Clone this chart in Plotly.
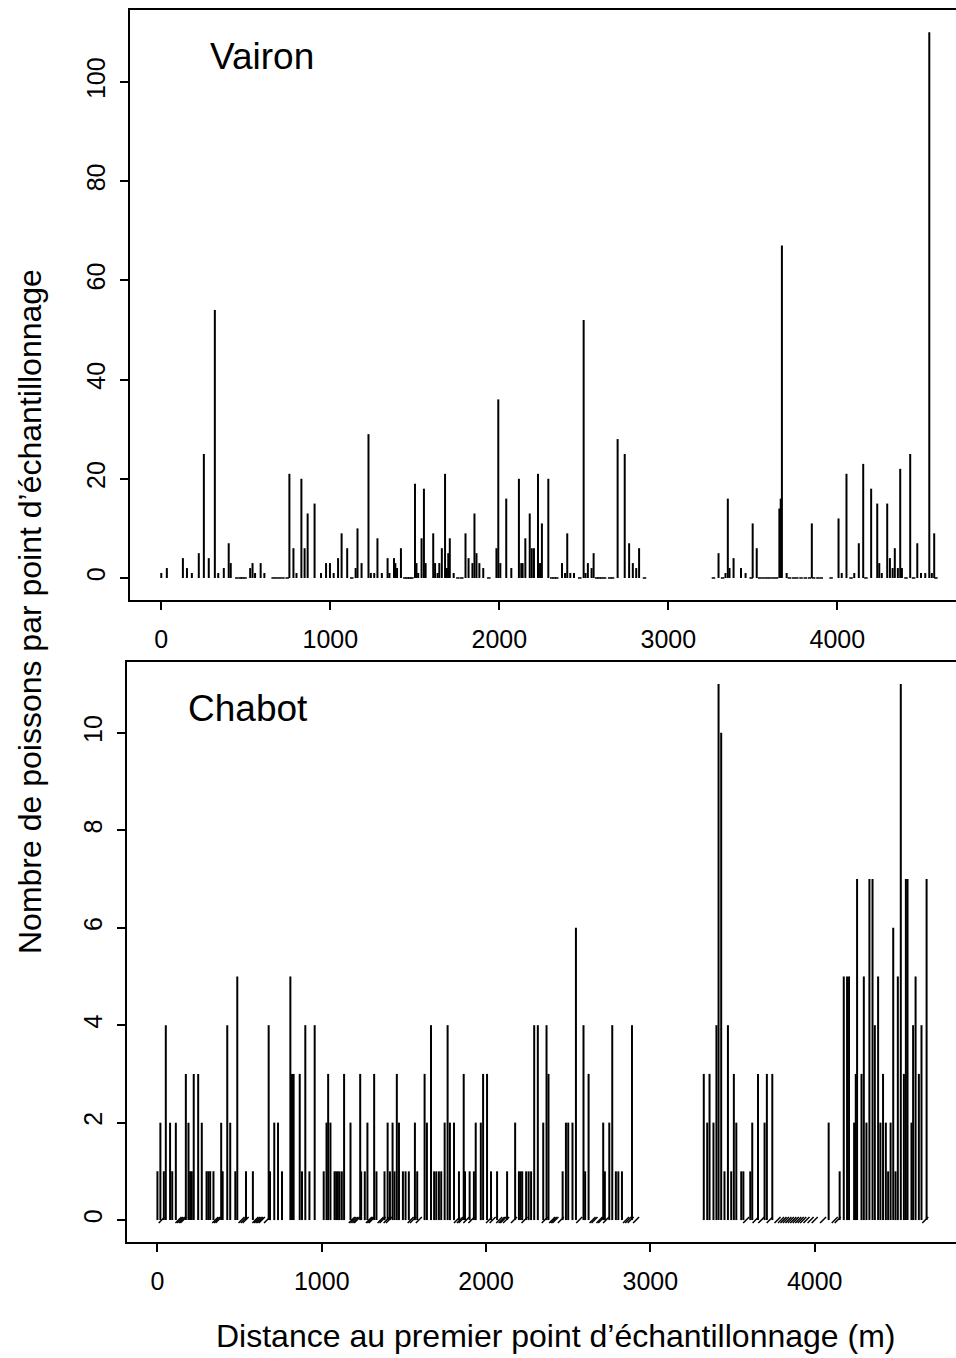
import plotly.graph_objects as go

W, H = 956, 1358

# ---------------- Data: Vairon (top panel) ----------------
vairon_dist = [0, 33, 128, 152, 181, 222, 252, 281, 317, 337, 370, 399, 411, 526, 540, 555, 588, 610,
               758, 782, 800, 829, 848, 866, 907, 945, 975, 998, 1020, 1046, 1067, 1100, 1150, 1161,
               1185, 1226, 1240, 1260, 1279, 1305, 1339, 1350, 1377, 1385, 1395, 1418, 1501, 1510,
               1520, 1540, 1554, 1564, 1609, 1620, 1635, 1645, 1660, 1679, 1690, 1698, 1707, 1730,
               1800, 1818, 1841, 1853, 1865, 1882, 1905, 1983, 1994, 2006, 2041, 2071, 2116, 2130,
               2138, 2154, 2180, 2192, 2205, 2229, 2241, 2252, 2290, 2371, 2389, 2402, 2420, 2442,
               2499, 2510, 2524, 2546, 2558, 2700, 2742, 2768, 2790, 2810, 2827, 3297, 3338, 3352,
               3362, 3386, 3430, 3457, 3499, 3523, 3657, 3665, 3672, 3700, 3849, 4007, 4026, 4054,
               4100, 4127, 4153, 4200, 4236, 4248, 4263, 4295, 4311, 4327, 4340, 4358, 4372, 4382,
               4431, 4473, 4495, 4520, 4544, 4559, 4573]
vairon_count = [1, 2, 4, 2, 1, 5, 25, 4, 54, 1, 2, 7, 3, 2, 3, 1, 3, 1,
                21, 6, 1, 20, 6, 13, 15, 1, 3, 3, 1, 4, 9, 6, 2, 10,
                3, 29, 1, 1, 8, 1, 4, 1, 4, 3, 2, 6, 19, 3,
                1, 8, 18, 3, 9, 3, 1, 3, 6, 21, 2, 5, 8, 1,
                9, 4, 3, 13, 5, 3, 2, 6, 36, 3, 16, 2, 20, 3,
                3, 8, 13, 6, 6, 21, 3, 11, 20, 3, 1, 9, 1, 1,
                52, 1, 3, 2, 5, 28, 25, 7, 3, 2, 6, 5, 1, 16,
                2, 4, 2, 1, 11, 6, 14, 16, 67, 1, 11, 12, 1, 21,
                1, 7, 23, 18, 15, 3, 1, 15, 4, 2, 6, 2, 22, 2,
                25, 7, 1, 1, 110, 1, 9]
vairon_zero_dist = [447, 467, 480, 496, 662, 680, 700, 720, 745, 1127, 1441, 1455, 1470, 1483,
                    1755, 1778, 1938, 2310, 2325, 2340, 2476, 2576, 2590, 2605, 2623, 2653, 2670,
                    2859, 3267, 3321, 3490, 3540, 3560, 3580, 3600, 3620, 3640, 3716, 3740, 3760,
                    3785, 3810, 3835, 3860, 3885, 3905, 3963, 4081, 4169, 4406, 4451, 4583]

# ---------------- Data: Chabot (bottom panel) ----------------
chabot_dist = [0, 18, 39, 51, 77, 90, 112, 173, 189, 199, 209, 221, 248, 270, 299, 310, 321, 341,
               388, 397, 425, 443, 474, 486, 539, 581, 677, 685, 711, 734, 758, 809, 819, 829, 866,
               880, 900, 925, 957, 1012, 1029, 1039, 1053, 1078, 1088, 1098, 1108, 1122, 1136, 1175,
               1234, 1240, 1262, 1278, 1319, 1333, 1382, 1401, 1415, 1431, 1443, 1457, 1470, 1494,
               1510, 1530, 1567, 1581, 1626, 1640, 1665, 1684, 1697, 1713, 1727, 1748, 1766, 1780,
               1805, 1835, 1864, 1872, 1900, 1926, 1937, 1968, 1982, 2006, 2030, 2067, 2128, 2177,
               2200, 2210, 2220, 2244, 2259, 2274, 2293, 2315, 2348, 2368, 2380, 2466, 2486, 2500,
               2526, 2547, 2593, 2603, 2624, 2713, 2723, 2750, 2768, 2790, 2805, 2827, 2888, 3325,
               3346, 3360, 3384, 3402, 3415, 3431, 3451, 3472, 3492, 3508, 3523, 3553, 3566, 3608,
               3620, 3655, 3695, 3709, 3742, 4085, 4152, 4177, 4197, 4209, 4240, 4250, 4258, 4285,
               4299, 4315, 4333, 4352, 4366, 4386, 4400, 4416, 4433, 4447, 4462, 4478, 4492, 4506,
               4524, 4543, 4555, 4565, 4589, 4599, 4614, 4634, 4650, 4681]
chabot_count = [1, 2, 1, 4, 2, 1, 2, 3, 2, 1, 1, 3, 3, 2, 1, 1, 1, 1,
                2, 1, 4, 2, 1, 5, 1, 1, 4, 1, 2, 2, 1, 5, 3, 3, 3,
                1, 4, 1, 4, 1, 2, 3, 2, 1, 1, 1, 1, 1, 3, 2,
                3, 1, 1, 2, 3, 1, 1, 2, 1, 2, 1, 3, 2, 1,
                1, 1, 2, 1, 3, 2, 4, 1, 1, 1, 1, 2, 4, 2,
                2, 1, 3, 1, 1, 1, 2, 2, 3, 3, 1, 1, 1, 2,
                1, 1, 1, 1, 1, 1, 4, 4, 2, 4, 3, 1, 2, 2,
                2, 6, 4, 1, 3, 2, 1, 2, 4, 1, 1, 1, 4, 3,
                2, 3, 2, 4, 11, 10, 1, 4, 1, 3, 2, 1, 1, 1,
                2, 3, 2, 3, 3, 2, 1, 5, 5, 5, 2, 3, 7, 3,
                5, 2, 7, 7, 4, 5, 2, 3, 2, 1, 2, 6, 1, 5,
                11, 3, 7, 7, 2, 4, 5, 3, 4, 7]
chabot_zero_dist = [26, 128, 138, 148, 158, 352, 362, 372, 512, 525, 537, 596, 606, 616, 626, 636,
                    667, 1183, 1193, 1205, 1215, 1287, 1296, 1305, 1358, 1370, 1395, 1409, 1541,
                    1555, 1591, 1823, 1841, 1851, 1880, 1911, 2018, 2040, 2080, 2095, 2105, 2122,
                    2170, 2234, 2357, 2402, 2412, 2422, 2455, 2567, 2648, 2660, 2690, 2701, 2730,
                    2852, 2865, 2880, 2913, 3583, 3640, 3675, 3726, 3774, 3795, 3810, 3825, 3840,
                    3855, 3870, 3885, 3900, 3915, 3930, 3950, 3975, 4000, 4051, 4122, 4140, 4673]

x_ticks = [0, 1000, 2000, 3000, 4000]
vairon_y_ticks = [0, 20, 40, 60, 80, 100]
chabot_y_ticks = [0, 2, 4, 6, 8, 10]

FONT = "Liberation Sans, Arial, sans-serif"


def spikes(xs, ys):
    sx, sy = [], []
    for x, y in zip(xs, ys):
        sx += [x, x, None]
        sy += [0, y, None]
    return sx, sy


fig = go.Figure()

vx, vy = spikes(vairon_dist, vairon_count)
fig.add_trace(go.Scatter(x=vx, y=vy, mode="lines", line=dict(color="black", width=2),
                         xaxis="x", yaxis="y", showlegend=False, hoverinfo="skip"))
fig.add_trace(go.Scatter(x=vairon_zero_dist, y=[0] * len(vairon_zero_dist), mode="markers",
                         marker=dict(symbol="line-ew-open", size=2.5, color="black",
                                     line=dict(color="black", width=1.5)),
                         xaxis="x", yaxis="y", showlegend=False, hoverinfo="skip"))

cx, cy = spikes(chabot_dist, chabot_count)
fig.add_trace(go.Scatter(x=cx, y=cy, mode="lines", line=dict(color="black", width=2),
                         xaxis="x2", yaxis="y2", showlegend=False, hoverinfo="skip"))
fig.add_trace(go.Scatter(x=chabot_zero_dist, y=[0] * len(chabot_zero_dist), mode="markers",
                         marker=dict(symbol="line-ne-open", size=6, color="black",
                                     line=dict(color="black", width=1.5)),
                         xaxis="x2", yaxis="y2", showlegend=False, hoverinfo="skip"))

axis_common = dict(showline=True, linecolor="black", linewidth=1.5, ticks="outside",
                   ticklen=8, tickwidth=1.5, tickcolor="black", showgrid=False, zeroline=False,
                   tickfont=dict(family=FONT, size=25, color="black"))

fig.update_layout(
    width=W, height=H,
    margin=dict(l=0, r=0, t=0, b=0),
    paper_bgcolor="white", plot_bgcolor="white",
    font=dict(family=FONT, color="black"),
    xaxis=dict(domain=[130 / W, 1], range=[-185, 4702], anchor="y", mirror=True,
               tickvals=x_ticks, ticktext=[str(t) for t in x_ticks], ticklabelstandoff=8, **axis_common),
    yaxis=dict(domain=[1 - 600 / H, 1 - 10 / H], range=[-4.44, 114.5], anchor="x",
               tickvals=vairon_y_ticks, tickangle=-90, ticklabelstandoff=5, **axis_common),
    xaxis2=dict(domain=[126.7 / W, 1], range=[-187, 4860], anchor="y2", mirror=True,
                tickvals=x_ticks, ticktext=[str(t) for t in x_ticks], ticklabelstandoff=8, **axis_common),
    yaxis2=dict(domain=[1 - 1242 / H, 1 - 661.7 / H], range=[-0.45, 11.46], anchor="x2",
                tickvals=chabot_y_ticks, tickangle=-90, ticklabelstandoff=5, **axis_common),
    annotations=[
        dict(text="Vairon", x=208 / W, y=1 - 57 / H, xref="paper", yref="paper",
             xanchor="left", yanchor="middle", showarrow=False, font=dict(size=37, family=FONT)),
        dict(text="Chabot", x=186 / W, y=1 - 708 / H, xref="paper", yref="paper",
             xanchor="left", yanchor="middle", showarrow=False, font=dict(size=37, family=FONT)),
        dict(text="Nombre de poissons par point d’échantillonnage", x=30 / W, y=1 - 612 / H,
             xref="paper", yref="paper", xanchor="center", yanchor="middle", textangle=-90,
             showarrow=False, font=dict(size=32, family=FONT)),
        dict(text="Distance au premier point d’échantillonnage (m)", x=555 / W, y=1 - 1336 / H,
             xref="paper", yref="paper", xanchor="center", yanchor="middle",
             showarrow=False, font=dict(size=32, family=FONT)),
    ],
)

fig.write_html("out.html")
